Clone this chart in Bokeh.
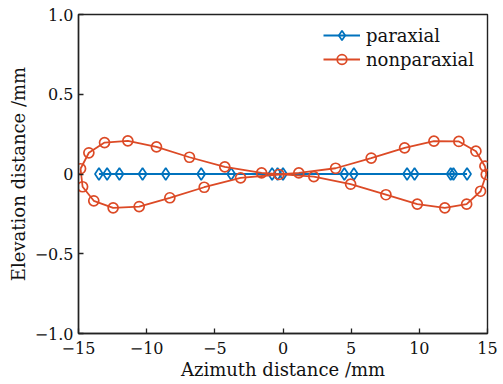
from bokeh.plotting import figure
from bokeh.models import Range1d, FixedTicker, Legend, LegendItem
from bokeh.embed import file_html
from bokeh.resources import INLINE

# paraxial (blue diamonds, all on y = 0)
par_x = [-13.5, -12.9, -12.0, -10.3, -8.6, -6.0, -3.8, -0.8, -0.4, 0.0,
         4.5, 5.2, 9.1, 9.65, 12.3, 12.5, 13.5]
par_y = [0.0] * len(par_x)

# nonparaxial (red circles, closed figure-eight)
non_x = [-14.85, -14.24, -13.09, -11.38, -9.28, -6.86, -4.27, -1.57,
         2.26, 4.96, 7.55, 9.85, 11.87, 13.47, 14.49, 14.91,
         14.81, 14.15, 12.9, 11.07, 8.92, 6.47, 3.86, 1.16, -0.3,
         -3.11, -5.78, -8.3, -10.55, -12.46, -13.88, -14.7, -14.85]
non_y = [0.033, 0.133, 0.197, 0.208, 0.17, 0.105, 0.045, 0.007,
         -0.016, -0.064, -0.13, -0.189, -0.212, -0.189, -0.108, -0.003,
         0.049, 0.143, 0.204, 0.206, 0.164, 0.1, 0.036, 0.007, -0.003,
         -0.024, -0.083, -0.149, -0.204, -0.212, -0.168, -0.08, 0.033]

x_ticks = [-15, -10, -5, 0, 5, 10, 15]
x_labels = ["\u221215", "\u221210", "\u22125", "0", "5", "10", "15"]
y_ticks = [-1.0, -0.5, 0.0, 0.5, 1.0]
y_labels = ["\u22121.0", "\u22120.5", "0", "0.5", "1.0"]

BLUE = "#0072BD"
RED = "#DC4A26"
FONT = "DejaVu Serif"

p = figure(width=501, height=384, output_backend="svg", toolbar_location=None,
           x_range=Range1d(-15, 15), y_range=Range1d(-1, 1),
           min_border_left=78, min_border_right=14, min_border_top=14,
           min_border_bottom=51)

p.grid.visible = False
p.background_fill_color = "white"
p.border_fill_color = "white"
p.outline_line_color = "#222222"
p.outline_line_width = 1.4

for ax in (p.xaxis[0], p.yaxis[0]):
    ax.axis_line_color = "#222222"
    ax.axis_line_width = 1.4
    ax.major_tick_line_color = "#222222"
    ax.major_tick_line_width = 1.3
    ax.major_tick_in = 5
    ax.major_tick_out = 0
    ax.minor_tick_line_color = None
    ax.major_label_text_font = FONT
    ax.major_label_text_font_size = "16px"
    ax.major_label_text_color = "#111111"
    ax.axis_label_text_font = FONT
    ax.axis_label_text_font_size = "18px"
    ax.axis_label_text_font_style = "normal"
    ax.axis_label_text_color = "#111111"

p.xaxis.ticker = FixedTicker(ticks=x_ticks)
p.xaxis.major_label_overrides = dict(zip(x_ticks, x_labels))
p.yaxis.ticker = FixedTicker(ticks=y_ticks)
p.yaxis.major_label_overrides = dict(zip(y_ticks, y_labels))
p.xaxis.axis_label = "Azimuth distance /mm"
p.yaxis.axis_label = "Elevation distance /mm"
p.xaxis.major_label_standoff = 8
p.xaxis.axis_label_standoff = 2
p.yaxis.major_label_standoff = 5
p.yaxis.axis_label_standoff = 3

l1 = p.line(par_x, par_y, line_color=BLUE, line_width=1.8)
m1 = p.scatter(par_x, par_y, marker="diamond", size=12, line_color=BLUE,
               line_width=1.7, fill_color=None)
l2 = p.line(non_x, non_y, line_color=RED, line_width=1.8)
m2 = p.scatter(non_x[:-1], non_y[:-1], marker="circle", size=10, line_color=RED,
               line_width=1.7, fill_color=None)

legend = Legend(items=[LegendItem(label="paraxial", renderers=[l1, m1]),
                       LegendItem(label="nonparaxial", renderers=[l2, m2])],
                location=(245, 262))
legend.border_line_color = None
legend.background_fill_alpha = 0
legend.label_text_font = FONT
legend.label_text_font_size = "18px"
legend.label_text_color = "#111111"
legend.glyph_width = 37
legend.glyph_height = 24
legend.label_height = 24
legend.label_standoff = 6
legend.spacing = 0
legend.padding = 0
legend.margin = 0
p.add_layout(legend)

open("out.html", "w").write(file_html(p, INLINE))
